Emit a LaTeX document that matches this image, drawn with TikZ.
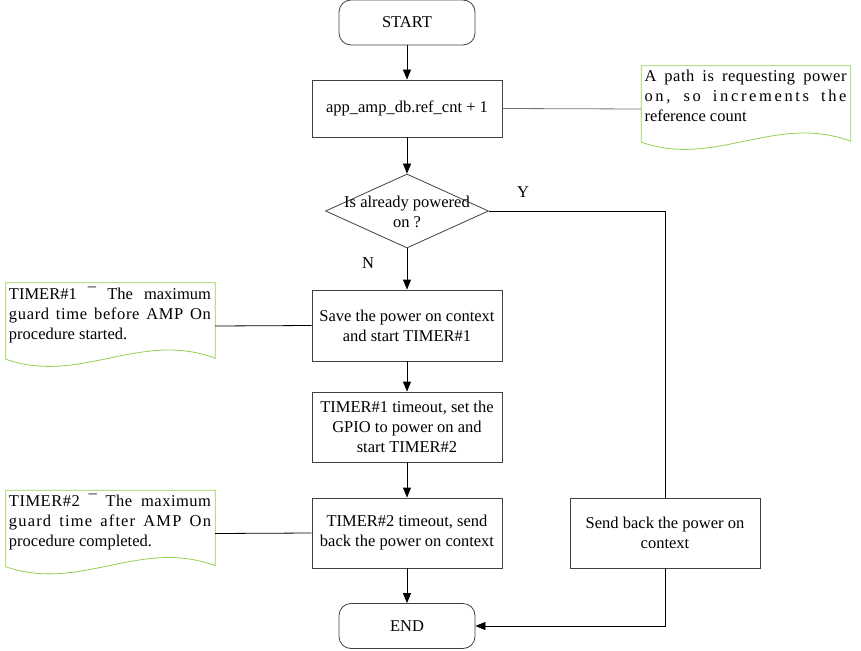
\documentclass[tikz,border=0pt]{standalone}
\usepackage{fontspec}
\setmainfont{Liberation Serif}
\usetikzlibrary{arrows.meta,shapes}
\definecolor{notegreen}{RGB}{146,208,80}
\newcommand{\bwidth}{190pt}
\newcommand{\tsize}{\fontsize{16.5}{20}\selectfont}
\newcommand{\spread}[2]{{\addfontfeature{LetterSpace=#1}#2}}
\tikzset{
  block/.style={draw=black!75, thick, minimum width=\bwidth, align=center, font=\tsize},
  term/.style={draw=black!75, thick, rounded corners=12pt, minimum width=136pt, minimum height=45pt, font=\tsize},
  note/.style={minimum width=209pt, minimum height=86pt, inner sep=0pt},
  notetext/.style={anchor=north west, text width=202pt, align=justify, inner sep=0pt, font=\tsize},
  flow/.style={-{Triangle[length=10pt,width=8pt]}, thick}
}
% wavy note outline around a note node
\newcommand{\noteshape}[1]{
  \draw[notegreen, thick] (#1.north west) -- ([yshift=10pt]#1.south west)
    .. controls +(74,26) and +(-75,-28) .. ([yshift=11pt]#1.south east)
    -- (#1.north east) -- cycle;
}

\begin{document}
\begin{tikzpicture}[x=1pt,y=-1pt]
  \useasboundingbox (0,0) rectangle (861,650);

  \node[term] (start) at (407,22.5) {START};
  \node[block, minimum height=57pt] (inc) at (407,108.5) {app\_amp\_db.ref\_cnt + 1};
  \node[diamond, draw=black!75, thick, minimum width=163pt, minimum height=74pt, inner sep=0pt] (dec) at (407,211) {};
  \node[font=\tsize, align=center] (dectext) at (407,212) {Is already powered\\on ?};
  \node[block, minimum height=71pt] (save) at (407,325.5) {Save the power on context\\and start TIMER\#1};
  \node[block, minimum height=70pt] (gpio) at (407,427) {TIMER\#1 timeout, set the\\GPIO to power on and\\start TIMER\#2};
  \node[block, minimum height=70pt] (send) at (407,533) {TIMER\#2 timeout, send\\back the power on context};
  \node[block, minimum height=70pt] (back) at (665,533) {Send back the power on\\context};
  \node[term] (end) at (407,626) {END};

  \node[font=\tsize] (ylab) at (523,192) {Y};
  \node[font=\tsize] (nlab) at (368,263) {N};

  % notes
  \node[note] (n1) at (746,109) {};
  \noteshape{n1}
  \node[notetext] (n1text) at ([xshift=3pt,yshift=-4pt]n1.north west) {\spread{3}{A path is requesting power}\linebreak \spread{16}{on, so increments the}\linebreak reference count};
  \node[note] (n2) at (110.5,326) {};
  \noteshape{n2}
  \node[notetext] (n2text) at ([xshift=3pt,yshift=-4pt]n2.north west) {TIMER\#1 ¯ The maximum\linebreak \spread{4}{guard time before AMP On}\linebreak procedure started.};
  \node[note] (n3) at (110.5,533.5) {};
  \noteshape{n3}
  \node[notetext] (n3text) at ([xshift=3pt,yshift=-4pt]n3.north west) {\spread{3}{TIMER\#2 ¯ The maximum}\linebreak \spread{7}{guard time after AMP On}\linebreak procedure completed.};

  \draw[flow] (start) -- (inc);
  \draw[flow] (inc) -- (dec);
  \draw[flow] (dec) -- (save);
  \draw[flow] (save) -- (gpio);
  \draw[flow] (gpio) -- (send);
  \draw[flow] (send) -- (end);
  \draw[thick] (dec.east) -| (back.north);
  \draw[flow] (back.south) |- (end.east);

  \draw[thick, black!55] (inc.east) -- (n1.west);
  \draw[thick] (n2.east) -- (save.west);
  \draw[thick] (n3.east) -- (send.west);
\end{tikzpicture}
\end{document}
